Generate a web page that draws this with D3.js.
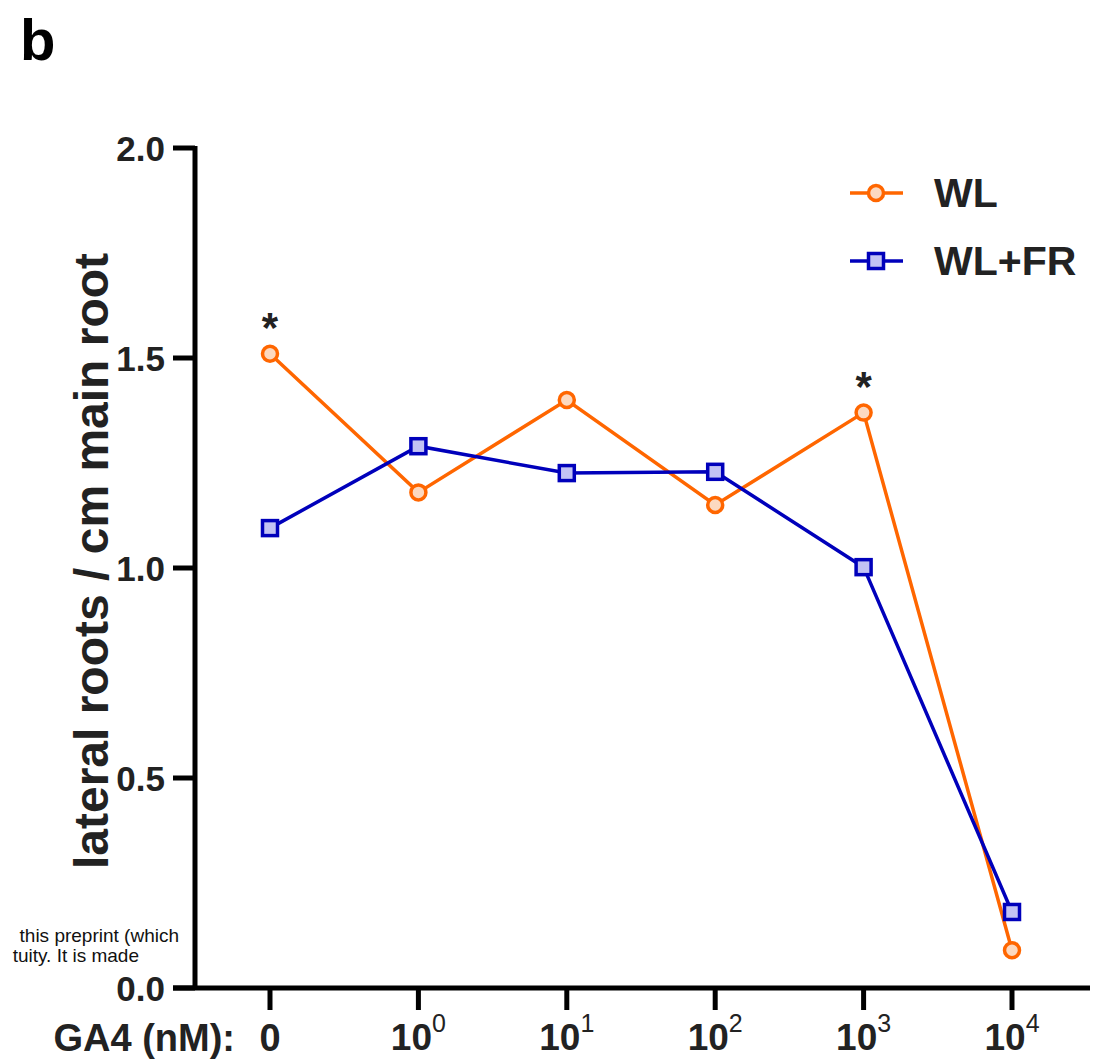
<!DOCTYPE html>
<html>
<head>
<meta charset="utf-8">
<script src="https://cdn.jsdelivr.net/npm/d3@7"></script>
<style>
  body { margin: 0; background: #fff; }
  text { font-family: "Liberation Sans", Arial, sans-serif; }
</style>
</head>
<body>
<div id="chart"></div>
<script>
// categories and series values
const doses = ["0", "0", "1", "2", "3", "4"];   // exponent of 10, first one is plain 0
const doseIsZero = [true, false, false, false, false, false];
const wl = [1.51, 1.18, 1.40, 1.15, 1.37, 0.09];
const wlfr = [1.095, 1.29, 1.226, 1.229, 1.002, 0.181];
const yTicks = [0, 0.5, 1.0, 1.5, 2.0];
const starIdx = [0, 4];

const W = 1106, H = 1064;
const svg = d3.select("#chart").append("svg")
    .attr("width", W).attr("height", H);

const y = d3.scaleLinear().domain([0, 2]).range([988, 148]);
const x = d3.scalePoint().domain(d3.range(doses.length)).range([270, 1012]);

const ink = "#222";
const orange = "#ff6600", orangeFill = "#fcd9c0";
const blue = "#0000bb", blueFill = "#c2c2f4";

// panel letter
svg.append("text").attr("x", 20).attr("y", 60)
    .style("font-size", "58px").style("font-weight", "bold").attr("fill", "#000")
    .text("b");

// watermark bits clipped at left edge
svg.append("text").attr("x", 179).attr("y", 942).attr("text-anchor", "end")
    .style("font-size", "19px").attr("fill", "#111").text("this preprint (which");
svg.append("text").attr("x", 139).attr("y", 962).attr("text-anchor", "end")
    .style("font-size", "19px").attr("fill", "#111").text("tuity. It is made");

// y axis
const yAxis = svg.append("g").attr("transform", "translate(195,0)");
yAxis.append("line").attr("y1", 146).attr("y2", 990).attr("stroke", "#000").attr("stroke-width", 5);
yTicks.forEach(t => {
    yAxis.append("line").attr("x1", -22).attr("x2", 0)
        .attr("y1", y(t)).attr("y2", y(t)).attr("stroke", "#000").attr("stroke-width", 5);
    yAxis.append("text").attr("x", -30).attr("y", y(t) + 13)
        .attr("text-anchor", "end").style("font-size", "35px").style("font-weight", "bold")
        .attr("fill", ink).text(t.toFixed(1));
});

// y label
svg.append("text")
    .attr("transform", "translate(108,561) rotate(-90)")
    .attr("text-anchor", "middle")
    .style("font-size", "48px").style("font-weight", "bold").attr("fill", ink)
    .text("lateral roots / cm main root");

// x axis
const xAxis = svg.append("g");
xAxis.append("line").attr("x1", 173).attr("x2", 1090).attr("y1", 988).attr("y2", 988)
    .attr("stroke", "#000").attr("stroke-width", 5);
doses.forEach((d, i) => {
    xAxis.append("line").attr("x1", x(i)).attr("x2", x(i)).attr("y1", 988).attr("y2", 1010)
        .attr("stroke", "#000").attr("stroke-width", 5);
    if (doseIsZero[i]) {
        xAxis.append("text").attr("x", x(i)).attr("y", 1051).attr("text-anchor", "middle")
            .style("font-size", "38px").style("font-weight", "bold").attr("fill", ink).text("0");
    } else {
        const t = xAxis.append("text").attr("x", x(i)).attr("y", 1050).attr("text-anchor", "middle")
            .style("font-size", "37px").style("font-weight", "bold").attr("fill", ink);
        t.append("tspan").text("10");
        t.append("tspan").attr("dy", -18).style("font-size", "25px").style("font-weight", "normal").text(d);
    }
});
svg.append("text").attr("x", 235).attr("y", 1051).attr("text-anchor", "end")
    .style("font-size", "38px").style("font-weight", "bold").attr("fill", ink)
    .text("GA4 (nM):");

// lines
const line = d3.line().x((d, i) => x(i)).y(d => y(d));
svg.append("path").datum(wl).attr("d", line).attr("fill", "none")
    .attr("stroke", orange).attr("stroke-width", 3.5);
svg.append("path").datum(wlfr).attr("d", line).attr("fill", "none")
    .attr("stroke", blue).attr("stroke-width", 3.5);

// markers
svg.selectAll(".sq").data(wlfr).join("rect").attr("class", "sq")
    .attr("x", (d, i) => x(i) - 7.5).attr("y", d => y(d) - 7.5)
    .attr("width", 15).attr("height", 15)
    .attr("fill", blueFill).attr("stroke", blue).attr("stroke-width", 3.5);
svg.selectAll(".ci").data(wl).join("circle").attr("class", "ci")
    .attr("cx", (d, i) => x(i)).attr("cy", d => y(d)).attr("r", 7.5)
    .attr("fill", orangeFill).attr("stroke", orange).attr("stroke-width", 3.5);

// significance stars
starIdx.forEach(i => {
    svg.append("text").attr("x", x(i)).attr("y", y(wl[i]) - 12).attr("text-anchor", "middle")
        .style("font-size", "42px").style("font-weight", "bold").attr("fill", ink).text("*");
});

// legend
const legend = [
    { name: "WL", stroke: orange, fill: orangeFill, shape: "circle", yy: 193 },
    { name: "WL+FR", stroke: blue, fill: blueFill, shape: "square", yy: 261 }
];
legend.forEach(l => {
    svg.append("line").attr("x1", 850).attr("x2", 903).attr("y1", l.yy).attr("y2", l.yy)
        .attr("stroke", l.stroke).attr("stroke-width", 3.5);
    if (l.shape === "circle") {
        svg.append("circle").attr("cx", 876).attr("cy", l.yy).attr("r", 7.5)
            .attr("fill", l.fill).attr("stroke", l.stroke).attr("stroke-width", 3.5);
    } else {
        svg.append("rect").attr("x", 868.5).attr("y", l.yy - 7.5).attr("width", 15).attr("height", 15)
            .attr("fill", l.fill).attr("stroke", l.stroke).attr("stroke-width", 3.5);
    }
    svg.append("text").attr("x", 934).attr("y", l.yy + 14)
        .style("font-size", "41px").style("font-weight", "bold").attr("fill", ink).text(l.name);
});
</script>
</body>
</html>
